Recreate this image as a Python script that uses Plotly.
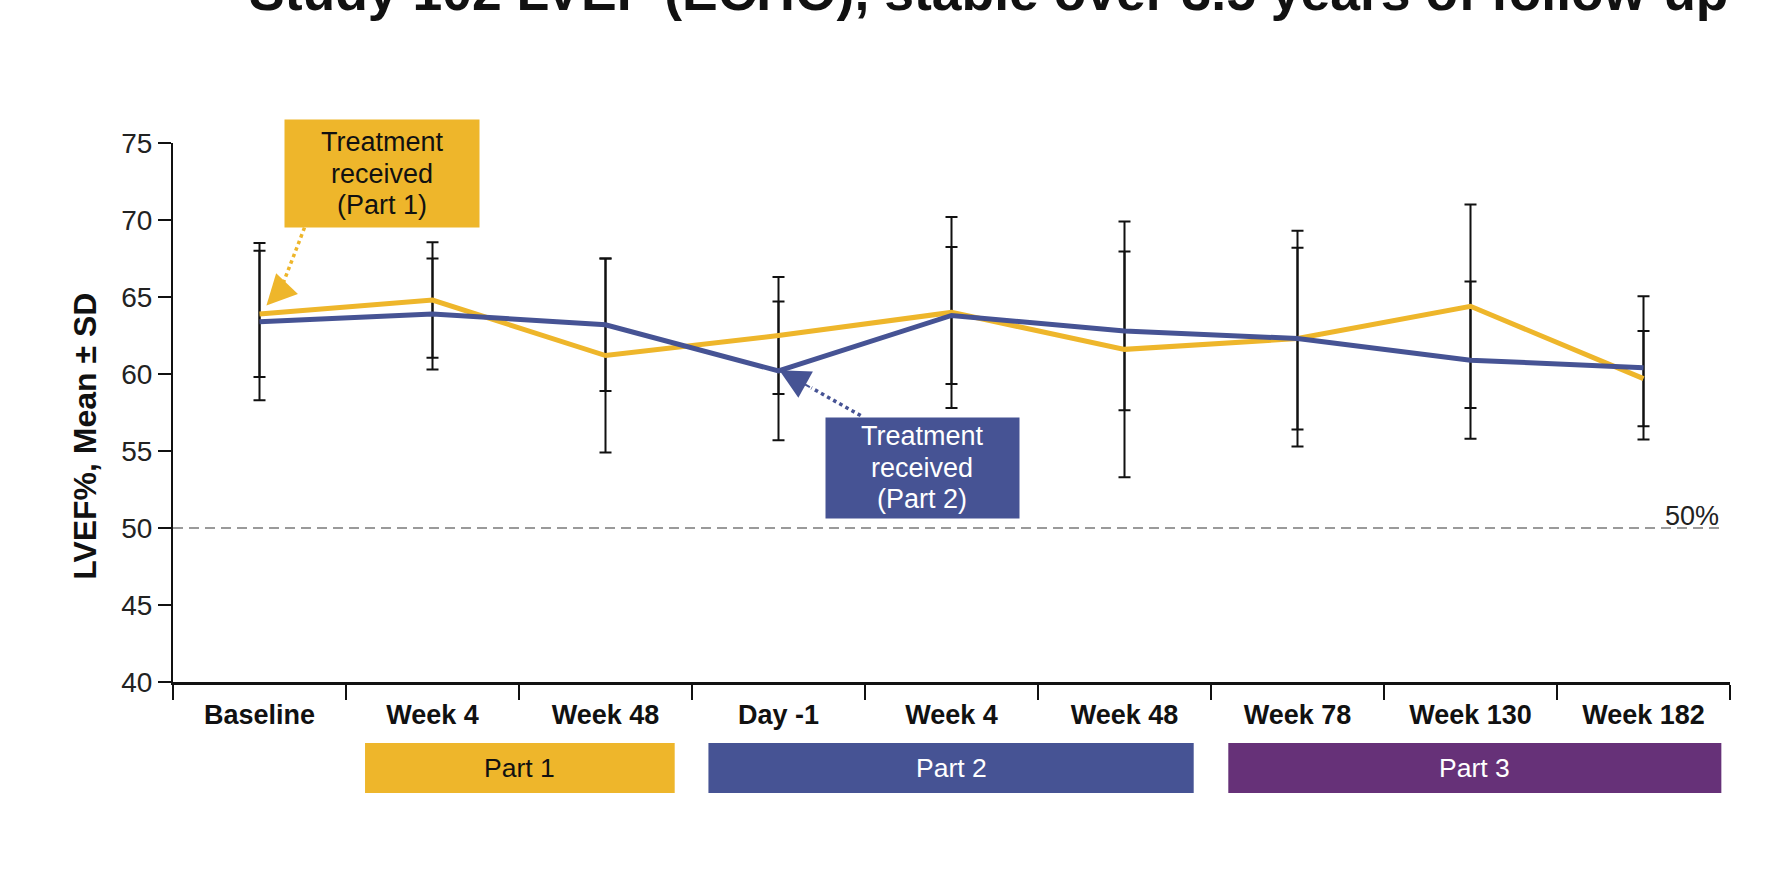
import plotly.graph_objects as go

# Visit labels along the x axis
visits = ["Baseline", "Week 4", "Week 48", "Day -1", "Week 4 ", "Week 48 ",
          "Week 78", "Week 130", "Week 182"]
visit_labels = ["Baseline", "Week 4", "Week 48", "Day -1", "Week 4", "Week 48",
                "Week 78", "Week 130", "Week 182"]

# LVEF (%) mean and SD per visit, group treated in Part 1
part1_mean = [63.9, 64.8, 61.2, 62.5, 64.0, 61.6, 62.3, 64.4, 59.7]
part1_sd = [4.1, 3.75, 6.3, 3.8, 6.2, 8.3, 7.0, 6.6, 3.1]

# LVEF (%) mean and SD per visit, group treated in Part 2
part2_mean = [63.4, 63.9, 63.2, 60.2, 63.8, 62.8, 62.3, 60.9, 60.4]
part2_sd = [5.1, 3.6, 4.3, 4.5, 4.45, 5.15, 5.9, 5.1, 4.65]

# Study phases shown under the axis: (label, first visit index, last visit index)
phases = [("Part 1", 1, 2), ("Part 2", 3, 5), ("Part 3", 6, 8)]

# call-out text lines
callout_part1 = ["Treatment", "received", "(Part 1)"]
callout_part2 = ["Treatment", "received", "(Part 2)"]

threshold = 50

GOLD = "#EEB62B"
BLUE = "#465394"
PURPLE = "#663178"
FONT = "Liberation Sans, Arial, sans-serif"
phase_colors = [GOLD, BLUE, PURPLE]
phase_text = ["#111111", "white", "white"]
phase_pad = [(0.39, 0.40), (0.405, 0.40), (0.40, 0.45)]

fig = go.Figure()

# error bars first so the mean lines sit on top
for mean, sd in ((part1_mean, part1_sd), (part2_mean, part2_sd)):
    fig.add_trace(go.Scatter(
        x=visits, y=mean, mode="markers",
        marker=dict(size=1, color="rgba(0,0,0,0)"),
        error_y=dict(type="data", array=sd, visible=True, color="#111111",
                     thickness=2, width=6),
        showlegend=False, hoverinfo="skip"))

fig.add_trace(go.Scatter(x=visits, y=part1_mean, mode="lines",
                         line=dict(color=GOLD, width=5), name="Part 1 treated",
                         showlegend=False))
fig.add_trace(go.Scatter(x=visits, y=part2_mean, mode="lines",
                         line=dict(color=BLUE, width=5), name="Part 2 treated",
                         showlegend=False))

shapes = []
annotations = []

# 50% reference line
shapes.append(dict(type="line", xref="x", yref="y", x0=-0.5, x1=8.45,
                   y0=threshold, y1=threshold,
                   line=dict(color="#9a9a9a", width=2, dash="10px,6px"), layer="below"))
annotations.append(dict(xref="x", yref="y", x=8.45, y=threshold, text="50%",
                        showarrow=False, xanchor="right", yanchor="bottom", yshift=-5,
                        font=dict(family=FONT, size=27, color="#222222")))

# phase bars under the x axis
for (label, i0, i1), col, tcol, (p0, p1) in zip(phases, phase_colors, phase_text, phase_pad):
    shapes.append(dict(type="rect", xref="x", yref="paper",
                       x0=i0 - p0, x1=i1 + p1, y0=-0.206, y1=-0.113,
                       fillcolor=col, line=dict(width=0)))
    annotations.append(dict(xref="x", yref="paper", x=(i0 - p0 + i1 + p1) / 2,
                            y=-0.1595, text=label, showarrow=False,
                            xanchor="center", yanchor="middle",
                            font=dict(family=FONT, size=26.5, color=tcol)))


def callout(x, y, w, h, lines, bg, fg):
    """Coloured box with tightly spaced, centred text lines."""
    annotations.append(dict(xref="x", yref="y", x=x, y=y, text=" ", showarrow=False,
                            width=w, height=h, bgcolor=bg, borderpad=0,
                            xanchor="center", yanchor="middle"))
    step = 31.5
    n = len(lines)
    for k, line in enumerate(lines):
        annotations.append(dict(xref="x", yref="y", x=x, y=y, text=line,
                                showarrow=False, xanchor="center", yanchor="middle",
                                yshift=((n - 1) / 2 - k) * step,
                                font=dict(family=FONT, size=27, color=fg)))


callout(0.71, 73.0, 194, 107, callout_part1, GOLD, "#111111")
callout(3.83, 53.9, 193, 100, callout_part2, BLUE, "white")

# dotted leader lines
shapes.append(dict(type="line", xref="x", yref="y", x0=0.26, y0=69.5, x1=0.12, y1=65.4,
                   line=dict(color=GOLD, width=3.5, dash="dot")))
shapes.append(dict(type="line", xref="x", yref="y", x0=3.475, y0=57.3, x1=3.19, y1=59.1,
                   line=dict(color=BLUE, width=3.5, dash="dot")))

# arrow heads
annotations.append(dict(xref="x", yref="y", x=0.04, y=64.45, ax=0.12, ay=65.4,
                        axref="x", ayref="y", text="", showarrow=True,
                        arrowhead=2, arrowsize=3, arrowwidth=2, arrowcolor=GOLD))
annotations.append(dict(xref="x", yref="y", x=3.005, y=60.25, ax=3.19, ay=59.1,
                        axref="x", ayref="y", text="", showarrow=True,
                        arrowhead=2, arrowsize=3, arrowwidth=2, arrowcolor=BLUE))

# y axis title
annotations.append(dict(xref="paper", yref="paper", x=-0.0565, y=0.455,
                        text="<b>LVEF%, Mean ± SD</b>", textangle=-90, showarrow=False,
                        xanchor="center", yanchor="middle",
                        font=dict(family=FONT, size=32, color="#111111")))

# headline
annotations.append(dict(xref="paper", yref="paper", x=0.524, y=1.281,
                        text="<b>Study 102 LVEF (ECHO), stable over 3.5 years of follow-up</b>",
                        showarrow=False, xanchor="center", yanchor="middle",
                        font=dict(family=FONT, size=53.5, color="#111111")))

fig.update_layout(
    width=1770, height=877,
    margin=dict(l=173, r=40, t=143, b=195, pad=0),
    paper_bgcolor="white", plot_bgcolor="white",
    shapes=shapes, annotations=annotations,
    font=dict(family=FONT, color="#111111"),
)

fig.update_xaxes(
    type="category", range=[-0.5, 8.5],
    tickmode="array", tickvals=visits,
    ticktext=[f"<b>{t}</b>" for t in visit_labels],
    tickson="boundaries", ticks="outside", ticklen=15, tickwidth=2, tickcolor="#111111",
    ticklabelstandoff=7,
    showline=True, linecolor="#111111", linewidth=2.5,
    showgrid=False, zeroline=False,
    tickfont=dict(family=FONT, size=27, color="#111111"),
)
fig.update_yaxes(
    range=[40, 75], tickvals=[40, 45, 50, 55, 60, 65, 70, 75],
    ticks="outside", ticklen=13, tickwidth=2, tickcolor="#111111",
    showline=True, linecolor="#111111", linewidth=2,
    showgrid=False, zeroline=False,
    tickfont=dict(family=FONT, size=28, color="#222222"),
)

fig.write_html("out.html")
